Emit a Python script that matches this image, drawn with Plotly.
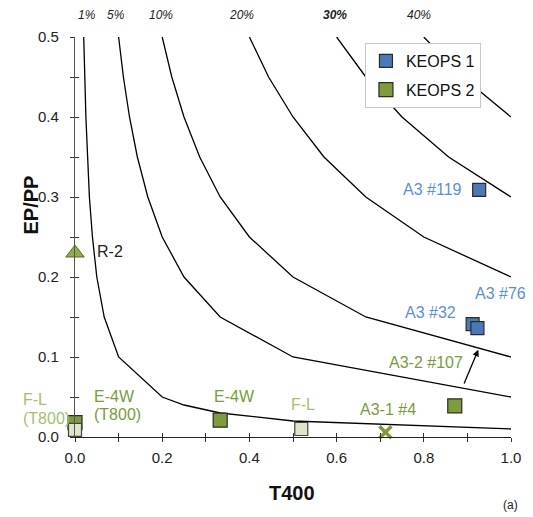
import plotly.graph_objects as go

# Iso-lines: T400 vs EP/PP
curve_labels = ["1%", "5%", "10%", "20%", "30%", "40%"]
c1_x = [0.02, 0.022, 0.025, 0.029, 0.033, 0.04, 0.05, 0.067, 0.1, 0.2, 0.25, 0.333, 0.5, 1.0]
c1_y = [0.5, 0.45, 0.4, 0.35, 0.3, 0.25, 0.2, 0.15, 0.1, 0.05, 0.04, 0.03, 0.02, 0.01]
c5_x = [0.1, 0.111, 0.125, 0.143, 0.167, 0.2, 0.25, 0.333, 0.5, 1.0]
c5_y = [0.5, 0.45, 0.4, 0.35, 0.3, 0.25, 0.2, 0.15, 0.1, 0.05]
c10_x = [0.2, 0.222, 0.25, 0.286, 0.333, 0.4, 0.5, 0.667, 1.0]
c10_y = [0.5, 0.45, 0.4, 0.35, 0.3, 0.25, 0.2, 0.15, 0.1]
c20_x = [0.4, 0.444, 0.5, 0.571, 0.667, 0.8, 1.0]
c20_y = [0.5, 0.45, 0.4, 0.35, 0.3, 0.25, 0.2]
c30_x = [0.6, 0.667, 0.75, 0.857, 1.0]
c30_y = [0.5, 0.45, 0.4, 0.35, 0.3]
c40_x = [0.8, 0.889, 1.0]
c40_y = [0.5, 0.45, 0.4]
curve_label_x = [0.027, 0.095, 0.197, 0.381, 0.596, 0.789]

# KEOPS 1 (blue)
k1_names = ["A3 #119", "A3 #32", "A3 #76"]
k1_x = [0.927, 0.912, 0.923]
k1_y = [0.309, 0.141, 0.136]

# KEOPS 2 (green)
k2_names = ["E-4W (T800)", "E-4W", "A3-2 #107"]
k2_x = [0.0, 0.333, 0.871]
k2_y = [0.018, 0.021, 0.039]

# F-L (pale)
fl_names = ["F-L (T800)", "F-L"]
fl_x = [0.0, 0.519]
fl_y = [0.009, 0.010]

# R-2 (triangle), A3-1 #4 (x)
r2_x = [0.0]
r2_y = [0.230]
a31_x = [0.712]
a31_y = [0.006]

x_ticks = [0, 0.2, 0.4, 0.6, 0.8, 1.0]
y_ticks = [0, 0.1, 0.2, 0.3, 0.4, 0.5]

BLUE = "#4a7ab5"
BLUE_TXT = "#5b8fd6"
GREEN = "#7f9b3c"
GREEN_TXT = "#7a9a3e"
PALE = "#dde6c8"
PALE_TXT = "#a3c074"
EDGE = "#2b2b2b"
FONT = "Liberation Sans, Arial"

fig = go.Figure()

curves = [(c1_x, c1_y), (c5_x, c5_y), (c10_x, c10_y), (c20_x, c20_y), (c30_x, c30_y), (c40_x, c40_y)]
for (cx, cy), lab in zip(curves, curve_labels):
    fig.add_trace(go.Scatter(x=cx, y=cy, mode="lines", line=dict(color="black", width=1.3),
                             showlegend=False, hoverinfo="skip", name=lab))

fig.add_trace(go.Scatter(x=k1_x, y=k1_y, mode="markers", name="KEOPS 1", cliponaxis=False, legendgroup="a",
                         marker=dict(symbol="square", size=13, color=BLUE, line=dict(color=EDGE, width=1.2))))
fig.add_trace(go.Scatter(x=k2_x, y=k2_y, mode="markers", name="KEOPS 2", cliponaxis=False, legendgroup="b",
                         marker=dict(symbol="square", size=14, color=GREEN, line=dict(color=EDGE, width=1.2))))
fig.add_trace(go.Scatter(x=fl_x, y=fl_y, mode="markers", showlegend=False, cliponaxis=False,
                         marker=dict(symbol="square", size=13, color=PALE, line=dict(color="#444", width=1.2))))
fig.add_trace(go.Scatter(x=r2_x, y=r2_y, mode="markers", showlegend=False, cliponaxis=False,
                         marker=dict(symbol="triangle-up", size=16, color="#8fae4a", line=dict(color="#556b2f", width=1))))
fig.add_trace(go.Scatter(x=a31_x, y=a31_y, mode="markers", showlegend=False, cliponaxis=False,
                         marker=dict(symbol="x-thin", size=12, color=GREEN, line=dict(color=GREEN, width=3.5))))

# dummy trace for overlay axes (cross ticks)
fig.add_trace(go.Scatter(x=[], y=[], xaxis="x2", yaxis="y2", showlegend=False))

ann = []
def add_label(text, x, y, color, xanchor="center", xshift=0, yshift=0):
    ann.append(dict(text=text, x=x, y=y, xref="x", yref="y", showarrow=False, xanchor=xanchor,
                    yanchor="middle", xshift=xshift, yshift=yshift,
                    font=dict(family=FONT, size=16, color=color)))

add_label("A3 #119", k1_x[0], k1_y[0], BLUE_TXT, xanchor="right", xshift=-15)
add_label("A3 #32", k1_x[1], k1_y[1], BLUE_TXT, xshift=-42, yshift=12)
add_label("A3 #76", k1_x[2], k1_y[2], BLUE_TXT, xshift=23, yshift=35)
add_label("E-4W", k2_x[0], k2_y[0], GREEN_TXT, xanchor="left", xshift=17, yshift=26)
add_label("(T800)", k2_x[0], k2_y[0], GREEN_TXT, xanchor="left", xshift=17, yshift=8)
add_label("E-4W", k2_x[1], k2_y[1], GREEN_TXT, xshift=14, yshift=24)
add_label("A3-2 #107", k2_x[2], k2_y[2], GREEN_TXT, xshift=-29, yshift=43)
add_label("F-L", fl_x[0], fl_y[0], PALE_TXT, xanchor="left", xshift=-54, yshift=30)
add_label("(T800)", fl_x[0], fl_y[0], PALE_TXT, xanchor="left", xshift=-54, yshift=11)
add_label("F-L", fl_x[1], fl_y[1], PALE_TXT, xshift=2, yshift=25)
add_label("R-2", r2_x[0], r2_y[0], "#222", xanchor="left", xshift=20, yshift=2)
add_label("A3-1 #4", a31_x[0], a31_y[0], GREEN_TXT, xshift=3, yshift=23)

# arrow
ann.append(dict(x=0.925, y=0.109, ax=0.891, ay=0.065, xref="x", yref="y", axref="x", ayref="y",
                showarrow=True, arrowhead=2, arrowsize=1, arrowwidth=1.3, arrowcolor="black", text=""))

for lab, lx in zip(curve_labels, curve_label_x):
    ann.append(dict(text=("<b><i>%s</i></b>" % lab) if lab == "30%" else ("<i>%s</i>" % lab),
                    x=lx, y=1.0555, xref="x", yref="paper", showarrow=False, yanchor="middle",
                    font=dict(family=FONT, size=12, color="#222")))

# axis titles and panel tag
ann.append(dict(text="<b>T400</b>", x=0.497, y=-0.14, xref="paper", yref="paper", showarrow=False,
                xanchor="center", yanchor="middle", font=dict(family=FONT, size=20, color="#111")))
ann.append(dict(text="<b>EP/PP</b>", x=-0.102, y=0.58, xref="paper", yref="paper", showarrow=False,
                textangle=-90, xanchor="center", yanchor="middle", font=dict(family=FONT, size=20, color="#111")))
ann.append(dict(text="(a)", x=0.998, y=-0.17, xref="paper", yref="paper", showarrow=False,
                xanchor="center", yanchor="middle", font=dict(family=FONT, size=12, color="#222")))

tickfont = dict(family=FONT, size=15, color="#222")
fig.update_layout(
    width=525, height=509,
    margin=dict(l=67, r=17, t=29, b=80),
    plot_bgcolor="white", paper_bgcolor="white",
    annotations=ann,
    xaxis=dict(range=[0, 1], showgrid=False, zeroline=False, showline=True, linecolor="#222", linewidth=1.2,
               tickvals=x_ticks, tickformat=".1f", ticks="outside", ticklen=4, ticklabelstandoff=3,
               tickcolor="#333", tickfont=tickfont, ticklabeloverflow="allow",
               minor=dict(tickvals=[0.1, 0.3, 0.5, 0.7, 0.9], ticks="outside", ticklen=4, tickcolor="#333")),
    yaxis=dict(range=[0, 0.5], showgrid=False, zeroline=False, showline=True, linecolor="#555", linewidth=1.2,
               tickvals=y_ticks, tickformat=".1f", ticks="outside", ticklen=4, ticklabelstandoff=8,
               tickcolor="#333", tickfont=tickfont,
               minor=dict(tickvals=[0.05, 0.15, 0.25, 0.35, 0.45], ticks="outside", ticklen=4, tickcolor="#333")),
    xaxis2=dict(range=[0, 1], overlaying="x", anchor="y", side="bottom", showgrid=False, zeroline=False,
                showticklabels=False, tickvals=[0, 0.1, 0.2, 0.3, 0.4, 0.5, 0.6, 0.7, 0.8, 0.9, 1.0],
                ticks="inside", ticklen=4, tickcolor="#333"),
    yaxis2=dict(range=[0, 0.5], overlaying="y", anchor="x", side="left", showgrid=False, zeroline=False,
                showticklabels=False, tickvals=[0, 0.05, 0.1, 0.15, 0.2, 0.25, 0.3, 0.35, 0.4, 0.45, 0.5],
                ticks="inside", ticklen=4, tickcolor="#333"),
    legend=dict(x=0.665, y=0.985, xanchor="left", yanchor="top", bgcolor="white", bordercolor="#c8c8c8",
                borderwidth=1, font=dict(family=FONT, size=16, color="#111"),
                traceorder="grouped", itemwidth=30, tracegroupgap=5),
    showlegend=True,
)

fig.write_html("out.html")
